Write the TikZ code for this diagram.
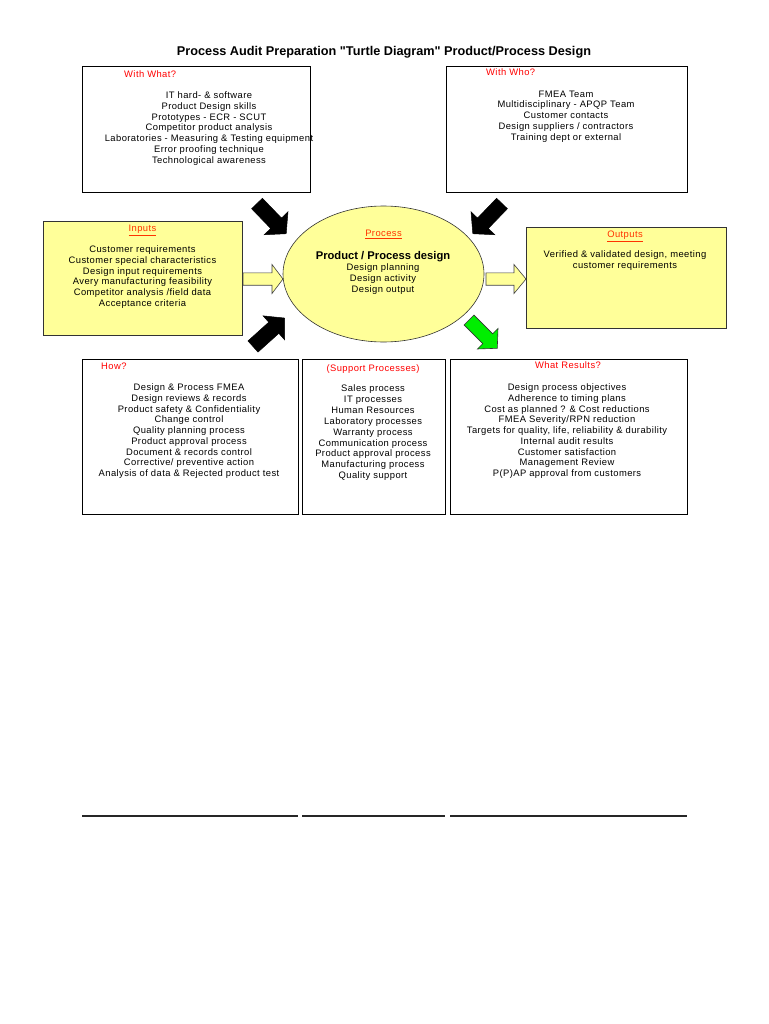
\documentclass[tikz,border=0pt]{standalone}
\usepackage{fontspec}
\setmainfont{Liberation Sans}
\newfontfamily\bodyfont[LetterSpace=4.5]{Liberation Sans}
\usetikzlibrary{shapes.geometric}
\definecolor{paleyellow}{HTML}{FFFF99}
\definecolor{labred}{HTML}{FF0000}
\definecolor{ulred}{HTML}{FF3300}
\definecolor{greenarrow}{HTML}{00EE00}
% #1 style, #2 tail, #3 angle, #4 length, #5 shaft half width, #6 head half width, #7 head length
\newcommand\blockarrow[7]{%
  \begin{scope}[shift={#2},rotate=#3]
    \filldraw[#1] (0,-#5) -- ({#4-#7},-#5) -- ({#4-#7},-#6) -- (#4,0) -- ({#4-#7},#6) -- ({#4-#7},#5) -- (0,#5) -- cycle;
  \end{scope}}
\begin{document}
\begin{tikzpicture}[x=1pt,y=-1pt,
  box/.style={draw=black, line width=0.8pt, anchor=north west, inner sep=0pt},
  ybox/.style={box, draw=black!80, fill=paleyellow},
  body/.style={font=\bodyfont\fontsize{9.4}{10.75}\selectfont, align=center, inner sep=0pt, anchor=north},
  lab/.style={font=\bodyfont\fontsize{9.4}{10.75}\selectfont, text=labred, inner sep=0pt, anchor=base},
  ulab/.style={font=\bodyfont\fontsize{9.4}{10.75}\selectfont, text=ulred, inner sep=0pt, anchor=base},
  blackarrow/.style={fill=black, draw=black, line width=0.5pt},
  yarrow/.style={fill=paleyellow, draw=black!75, line width=0.6pt},
  garrow/.style={fill=greenarrow, draw=black!80, line width=0.6pt}]
\useasboundingbox[fill=white] (0,0) rectangle (768,1024);

% title
\node[font=\bfseries\fontsize{12.7}{14}\selectfont, inner sep=0pt, anchor=base] (title) at (384,55.5)
  {Process Audit Preparation \textquotedbl Turtle Diagram\textquotedbl{} Product/Process Design};

% boxes
\node[box, minimum width=228pt, minimum height=126pt] (withwhat) at (82,66) {};
\node[box, minimum width=241pt, minimum height=126pt] (withwho) at (446,66) {};
\node[ybox, minimum width=199pt, minimum height=114pt] (inputs) at (43,221) {};
\node[ybox, minimum width=200pt, minimum height=101pt] (outputs) at (526,227) {};
\node[box, minimum width=216pt, minimum height=155pt] (how) at (82,359) {};
\node[box, minimum width=143pt, minimum height=155pt] (support) at (302,359) {};
\node[box, minimum width=237pt, minimum height=155pt] (results) at (450,359) {};
\node[ellipse, draw=black!80, line width=0.6pt, fill=paleyellow, minimum width=201pt, minimum height=136pt, inner sep=0pt] (proc) at (383.5,274) {};

% arrows
\blockarrow{blackarrow}{(257,203.5)}{-46}{42}{7.5}{16.5}{14.5}
\blockarrow{blackarrow}{(502,203.5)}{-134}{42}{7.5}{16.5}{14.5}
\blockarrow{blackarrow}{(253,346.5)}{42}{42.5}{7.5}{16}{14.5}
\blockarrow{garrow}{(469,320)}{-45}{40}{7}{14.5}{13.5}
\blockarrow{yarrow}{(243,279)}{0}{40}{6.2}{14.5}{11}
\blockarrow{yarrow}{(486,279)}{0}{40}{6.2}{14.5}{12}

% labels
\node[lab, anchor=base west] (lwhat) at (124,77.5) {With What?};
\node[lab, anchor=base west] (lwho) at (486,75.5) {With Who?};
\node[ulab] (linputs) at (142.5,231.5) {\underline{Inputs}};
\node[ulab] (lproc) at (383.5,236.5) {\underline{Process}};
\node[ulab] (loutputs) at (625,237.5) {\underline{Outputs}};
\node[lab, anchor=base west] (lhow) at (101,369.5) {How?};
\node[lab] (lsupport) at (373,371) {(Support Processes)};
\node[lab] (lresults) at (568,368.5) {What Results?};

% texts
\node[body] (twhat) at (209,91.5) {IT hard- \& software\\Product Design skills\\Prototypes - ECR - SCUT\\Competitor product analysis\\Laboratories - Measuring \& Testing equipment\\Error proofing technique\\Technological awareness};
\node[body] (twho) at (566,90.5) {FMEA Team\\Multidisciplinary - APQP Team\\Customer contacts\\Design suppliers / contractors\\Training dept or external};
\node[body] (tinputs) at (142.5,245.5) {Customer requirements\\Customer special characteristics\\Design input requirements\\Avery manufacturing feasibility\\Competitor analysis /field data\\Acceptance criteria};
\node[font=\bfseries\fontsize{11.2}{12}\selectfont, inner sep=0pt, anchor=base] (tprochead) at (383,259) {Product / Process design};
\node[body] (tproc) at (383,263.5) {Design planning\\Design activity\\Design output};
\node[body] (toutputs) at (625,250.5) {Verified \& validated design, meeting\\customer requirements};
\node[body] (thow) at (189,383.5) {Design \& Process FMEA\\Design reviews \& records\\Product safety \& Confidentiality\\Change control\\Quality planning process\\Product approval process\\Document \& records control\\Corrective/ preventive action\\Analysis of data \& Rejected product test};
\node[body, font=\bodyfont\fontsize{9.4}{10.9}\selectfont] (tsupport) at (373,384.5) {Sales process\\IT processes\\Human Resources\\Laboratory processes\\Warranty process\\Communication process\\Product approval process\\Manufacturing process\\Quality support};
\node[body] (tresults) at (567,383.5) {Design process objectives\\Adherence to timing plans\\Cost as planned ? \& Cost reductions\\FMEA Severity/RPN reduction\\Targets for quality, life, reliability \& durability\\Internal audit results\\Customer satisfaction\\Management Review\\P(P)AP approval from customers};

% bottom rules
\coordinate (r1a) at (82,816); \coordinate (r1b) at (298,816);
\coordinate (r2a) at (302,816); \coordinate (r2b) at (445,816);
\coordinate (r3a) at (450,816); \coordinate (r3b) at (687,816);
\draw[line width=1.2pt, black!85] (r1a) -- (r1b);
\draw[line width=1.2pt, black!85] (r2a) -- (r2b);
\draw[line width=1.2pt, black!85] (r3a) -- (r3b);
\end{tikzpicture}
\end{document}
